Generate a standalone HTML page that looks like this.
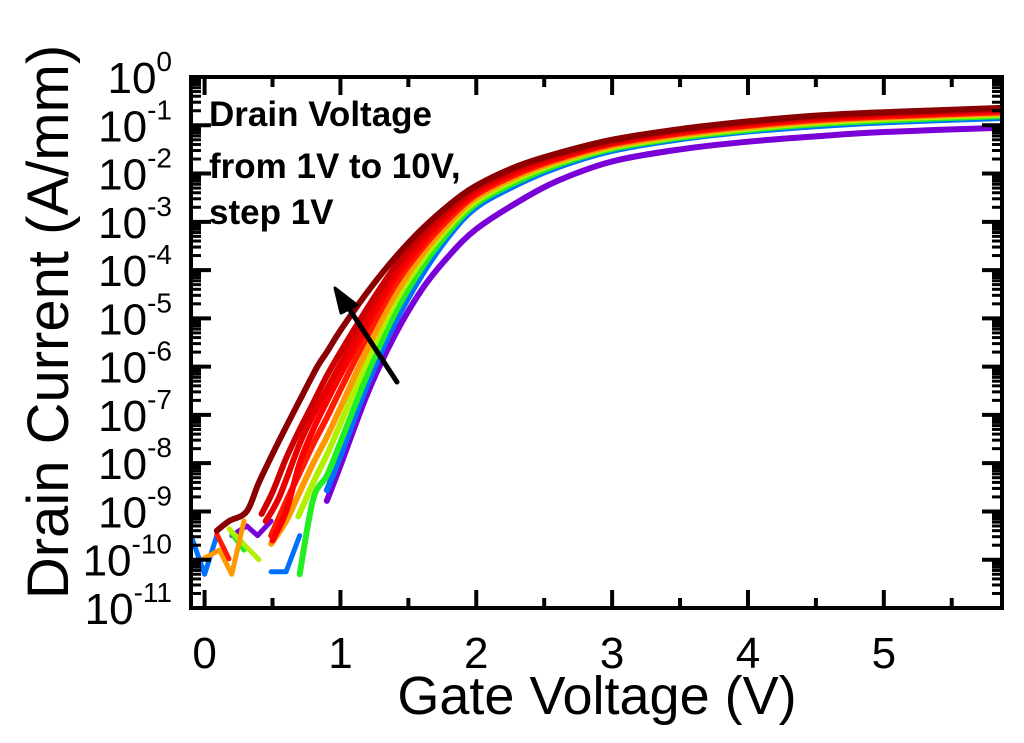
<!DOCTYPE html>
<html><head><meta charset="utf-8"><style>
html,body{margin:0;padding:0;background:#fff;}
svg{display:block;font-family:"Liberation Sans",Arial,sans-serif;}
</style></head><body>
<svg id="chart" width="1024" height="743" viewBox="0 0 1024 743" xmlns="http://www.w3.org/2000/svg">
<g id="plot"></g>
<g id="axes"></g>
<text x="597" y="714" font-size="54" text-anchor="middle">Gate Voltage (V)</text>
<text transform="translate(68,322) rotate(-90)" font-size="58" text-anchor="middle">Drain Current (A/mm)</text>
<g font-size="35" font-weight="bold">
<text x="209" y="126">Drain Voltage</text>
<text x="209" y="178">from 1V to 10V,</text>
<text x="209" y="224">step 1V</text>
</g>
<g>
<line x1="397" y1="382" x2="346" y2="304" stroke="#000" stroke-width="5" stroke-linecap="round"/>
<polygon points="335,288 357,305 341,313" fill="#000" stroke="#000" stroke-width="3" stroke-linejoin="round"/>
</g>
</svg>
<script>
// ---- data ----
const drainVoltages = [1,2,3,4,5,6,7,8,9,10];
const seriesColors = ["#7a00d8","#0070ff","#22ee22","#b0f000","#ff9900","#ff1a00","#ff0000","#e60000","#cc0000","#8b0000"];
const gateV = [0.9,1.0,1.2,1.4,1.6,1.8,2.0,2.3,2.6,3.0,3.5,4.0,4.5,5.0,5.87];
const logId1 = [-8.78,-8.05,-6.55,-5.35,-4.4,-3.7,-3.15,-2.6,-2.15,-1.75,-1.5,-1.34,-1.23,-1.14,-1.05];
const logId2 = [-8.56,-7.85,-6.36,-5.1,-4.1,-3.29,-2.7,-2.23,-1.87,-1.53,-1.29,-1.13,-1.02,-0.94,-0.85];
const logId3 = [-8.26,-7.57,-6.15,-4.9,-3.95,-3.2,-2.63,-2.17,-1.82,-1.49,-1.26,-1.1,-0.98,-0.9,-0.81];
const logId4 = [-7.83,-7.18,-5.86,-4.68,-3.8,-3.1,-2.57,-2.11,-1.78,-1.46,-1.23,-1.07,-0.95,-0.87,-0.78];
const logId5 = [-7.46,-6.85,-5.62,-4.52,-3.68,-3.02,-2.5,-2.06,-1.74,-1.43,-1.2,-1.04,-0.92,-0.84,-0.75];
const logId6 = [-7.06,-6.48,-5.35,-4.32,-3.55,-2.93,-2.44,-2.01,-1.7,-1.39,-1.17,-1.01,-0.89,-0.82,-0.73];
const logId7 = [-6.72,-6.17,-5.13,-4.17,-3.45,-2.85,-2.39,-1.96,-1.67,-1.37,-1.14,-0.98,-0.86,-0.79,-0.7];
const logId8 = [-6.47,-5.95,-4.96,-4.06,-3.36,-2.8,-2.34,-1.93,-1.64,-1.35,-1.12,-0.96,-0.84,-0.77,-0.68];
const logId9 = [-6.19,-5.7,-4.78,-3.94,-3.28,-2.73,-2.3,-1.89,-1.61,-1.33,-1.1,-0.94,-0.82,-0.75,-0.66];
const logId10 = [-5.7,-5.25,-4.45,-3.75,-3.15,-2.65,-2.25,-1.85,-1.58,-1.3,-1.08,-0.92,-0.8,-0.73,-0.64];
// leading part below 0.9 V (gate V, log current)
const leadV = [[],[],[0.7,0.8],[0.69,0.8],[0.49,0.6,0.7,0.8],[0.49,0.6,0.7,0.8],[0.5,0.6,0.7,0.8],[0.45,0.55,0.7,0.8],[0.42,0.5,0.6,0.7,0.8],[0.09,0.18,0.31,0.4,0.53,0.7,0.83]];
const leadL = [[],[],[-10.3,-8.74],[-9.1,-8.4],[-9.67,-9.2,-8.6,-8.0],[-9.5,-8.8,-8.2,-7.6],[-9.6,-9.0,-8.0,-7.3],[-9.2,-8.7,-7.6,-7.0],[-9.05,-8.6,-7.9,-7.3,-6.75],[-9.4,-9.2,-9.0,-8.4,-7.64,-6.7,-6.0]];
// noise-floor segments
const noiseV = [[0.2,0.31,0.39,0.49],[-0.1,0.0,0.09],[0.2,0.29],[0.18,0.4],[-0.01,0.11,0.2,0.29],[0.09,0.18],[],[],[],[]];
const noiseL = [[-9.5,-9.3,-9.5,-9.2],[-9.5,-10.3,-9.5],[-9.46,-9.8],[-9.36,-10.0],[-9.98,-9.8,-10.3,-9.2],[-9.47,-9.98],[],[],[],[]];
const noise2V = [[],[0.49,0.6,0.7],[],[],[],[],[],[],[],[]];
const noise2L = [[],[-10.25,-10.25,-9.5],[],[],[],[],[],[],[],[]];
const xTicks = [0,1,2,3,4,5];
const yDecades = [0,-1,-2,-3,-4,-5,-6,-7,-8,-9,-10,-11];
const allLogs = [logId1,logId2,logId3,logId4,logId5,logId6,logId7,logId8,logId9,logId10];

// ---- scales ----
const L=191,R=1002,T=77,B=608;
const xMin=-0.1,xMax=5.87,yMin=-11,yMax=0;
const xs=v=>L+(v-xMin)/(xMax-xMin)*(R-L);
const ys=l=>B-(l-yMin)/(yMax-yMin)*(B-T);
const NS="http://www.w3.org/2000/svg";
const plot=document.getElementById('plot'), axes=document.getElementById('axes');
function mk(tag,attrs,parent){const e=document.createElementNS(NS,tag);for(const k in attrs)e.setAttribute(k,attrs[k]);parent.appendChild(e);return e;}
function smooth(pts){
  if(pts.length<3) return 'M'+pts.map(p=>p.join(',')).join('L');
  let d='M'+pts[0][0]+','+pts[0][1];
  for(let i=0;i<pts.length-1;i++){
    const p0=pts[i-1]||pts[i],p1=pts[i],p2=pts[i+1],p3=pts[i+2]||p2;
    const c1=[p1[0]+(p2[0]-p0[0])/6,p1[1]+(p2[1]-p0[1])/6];
    const c2=[p2[0]-(p3[0]-p1[0])/6,p2[1]-(p3[1]-p1[1])/6];
    d+='C'+c1.join(',')+' '+c2.join(',')+' '+p2.join(',');
  }
  return d;
}
function poly(vs,ls){return 'M'+vs.map((v,i)=>xs(v).toFixed(1)+','+ys(ls[i]).toFixed(1)).join('L');}
const clip=mk('clipPath',{id:'pc'},plot);mk('rect',{x:L,y:T,width:R-L,height:B-T},clip);
const g=mk('g',{'clip-path':'url(#pc)'},plot);
for(let k=0;k<drainVoltages.length;k++){
  const col=seriesColors[k];
  const sg=mk('g',{},g);
  
  
  const pts=[];
  leadV[k].forEach((v,i)=>pts.push([xs(v),ys(leadL[k][i])]));
  gateV.forEach((v,i)=>pts.push([xs(v),ys(allLogs[k][i])]));
  const p=mk('path',{d:smooth(pts),fill:'none',stroke:col,'stroke-width':6,'stroke-linecap':'round','stroke-linejoin':'round'},sg);
  
  
  [[noiseV[k],noiseL[k]],[noise2V[k],noise2L[k]]].forEach(([nv,nl])=>{
    if(nv.length<2) return;
    const n=mk('path',{d:poly(nv,nl),fill:'none',stroke:col,'stroke-width':5,'stroke-linecap':'round','stroke-linejoin':'round'},sg);
    
    
  });
}
// frame
const fr=mk('rect',{x:L,y:T,width:R-L,height:B-T,fill:'none',stroke:'#000','stroke-width':4},axes);


// x ticks
for(let v=0;v<=5.5;v+=0.5){
  const x=xs(v), len=(Math.abs(v-Math.round(v))<1e-6)?18:10;
  mk('line',{x1:x,y1:B,x2:x,y2:B-len,stroke:'#000','stroke-width':4},axes);
  mk('line',{x1:x,y1:T,x2:x,y2:T+len,stroke:'#000','stroke-width':4},axes);
}
xTicks.forEach(v=>{
  const t=mk('text',{x:xs(v),y:668,'font-size':44,'text-anchor':'middle'},axes);
  t.textContent=v;
  
  
});
// y ticks
yDecades.forEach(d=>{
  const y=ys(d);
  mk('line',{x1:L,y1:y,x2:L+20,y2:y,stroke:'#000','stroke-width':4},axes);
  mk('line',{x1:R,y1:y,x2:R-20,y2:y,stroke:'#000','stroke-width':4},axes);
  if(d>-11){for(let m=2;m<=9;m++){const yy=ys(d-1+Math.log10(m));
    mk('line',{x1:L,y1:yy,x2:L+10,y2:yy,stroke:'#000','stroke-width':3},axes);
    mk('line',{x1:R,y1:yy,x2:R-10,y2:yy,stroke:'#000','stroke-width':3},axes);}}
  const t=mk('text',{x:172,y:y+16,'font-size':44,'text-anchor':'end'},axes);
  
  
  t.textContent='10';
  const s=mk('tspan',{dy:-22,'font-size':28},t);
  s.textContent=String(d);
});
</script>
</body></html>
